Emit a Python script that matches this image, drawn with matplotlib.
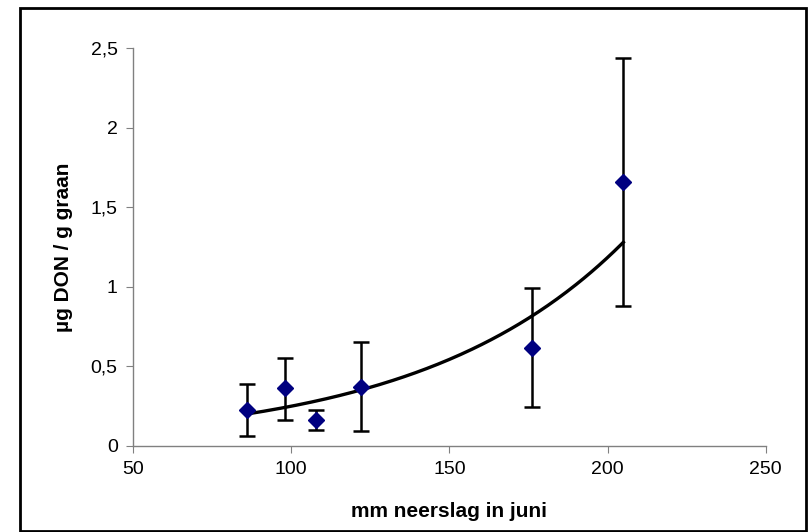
import numpy as np
import matplotlib
matplotlib.use("Agg")
import matplotlib.pyplot as plt
from matplotlib.ticker import FuncFormatter
from matplotlib.patches import Rectangle

plt.rcParams['font.family'] = ['Liberation Sans', 'DejaVu Sans']

# data
neerslag = [86, 98, 108, 122, 176, 205]
don = [0.225, 0.365, 0.163, 0.37, 0.614, 1.658]
err_low = [0.063, 0.163, 0.100, 0.092, 0.243, 0.879]
err_high = [0.39, 0.555, 0.226, 0.655, 0.994, 2.44]

x = np.array(neerslag)
y = np.array(don)
yerr = [y - np.array(err_low), np.array(err_high) - y]

# exponential trendline (Excel style fit on log y)
b, lna = np.polyfit(x, np.log(y), 1)
xt = np.linspace(x.min(), x.max(), 200)
yt = np.exp(lna) * np.exp(b * xt)

fig = plt.figure(figsize=(8.1, 5.32), dpi=100)
ax = fig.add_axes([0.1642, 0.1617, 0.7811, 0.7481])

ax.plot(xt, yt, color='black', lw=2.4, zorder=2)
ax.errorbar(x, y, yerr=yerr, fmt='D', color='#000080', markersize=8.5,
            ecolor='black', elinewidth=1.8, capsize=6, capthick=1.8, zorder=3)

ax.set_xlim(50, 250)
ax.set_ylim(0, 2.5)
ax.set_xticks([50, 100, 150, 200, 250])
ax.set_yticks([0, 0.5, 1, 1.5, 2, 2.5])
ax.yaxis.set_major_formatter(FuncFormatter(lambda v, p: ('%g' % v).replace('.', ',')))

for s in ['top', 'right']:
    ax.spines[s].set_visible(False)
for s in ['left', 'bottom']:
    ax.spines[s].set_color('#808080')
    ax.spines[s].set_linewidth(1.0)
ax.tick_params(direction='out', length=5, color='#808080', labelsize=14, pad=6)

ax.set_xlabel('mm neerslag in juni', fontsize=15, fontweight='bold')
ax.set_ylabel('µg DON / g graan', fontsize=15, fontweight='bold')
ax.xaxis.set_label_coords(0.5, -0.142)
ax.yaxis.set_label_coords(-0.095, 0.5)

fig.patches.append(Rectangle((0.0247, 0.002), 0.9703, 0.983, transform=fig.transFigure,
                             fill=False, edgecolor='black', lw=2))

fig.savefig('out.png', dpi=100)
